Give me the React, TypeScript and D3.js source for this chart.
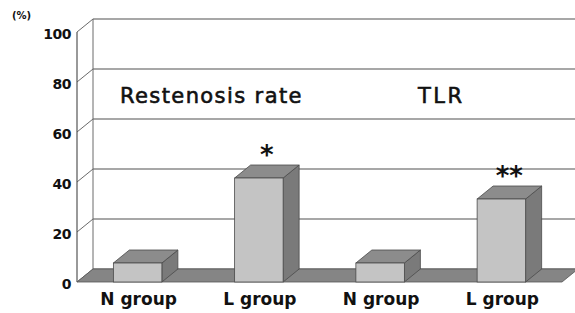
import React from 'react';
import * as d3 from 'd3';

const categories = ['N group', 'L group', 'N group', 'L group'];
const values = [7.6, 41.6, 7.6, 33.2];
const marks = ['', '*', '', '**'];
const yTicks = [0, 20, 40, 60, 80, 100];
const panelLabels = ['Restenosis rate', 'TLR'];

const W = 575;
const H = 313;
const left = 77;
const right = 562;
const top = 32;
const bottom = 282;
const dx = 16;
const dy = -13;

export default function App() {
  const x = d3.scaleBand<number>()
    .domain(categories.map((_, i) => i))
    .range([left, right])
    .padding(0);
  const y = d3.scaleLinear().domain([0, 100]).range([bottom, top]);
  const barW = x.bandwidth() * 0.4;

  const font = '"DejaVu Sans", Arial, sans-serif';
  const poly = (pts: number[][]) => pts.map(p => p.join(',')).join(' ');

  return (
    <svg width={W} height={H} viewBox={`0 0 ${W} ${H}`}
      style={{ position: 'absolute', left: 0, top: 0, background: '#fff' }}>
      {/* back wall gridlines */}
      {yTicks.map(t => (
        <g key={t}>
          <line x1={left + dx} x2={W} y1={y(t) + dy} y2={y(t) + dy} stroke="#8a8a8a" strokeWidth={1.4} />
          <line x1={left} x2={left + dx} y1={y(t)} y2={y(t) + dy} stroke="#6a6a6a" strokeWidth={1} />
        </g>
      ))}
      <line x1={left + dx} x2={left + dx} y1={y(100) + dy} y2={y(0) + dy} stroke="#6a6a6a" strokeWidth={1} />
      <line x1={left} x2={left} y1={y(100)} y2={y(0)} stroke="#555" strokeWidth={1.2} />

      {/* floor */}
      <polygon
        points={poly([[left, y(0)], [right, y(0)], [right + dx, y(0) + dy], [left + dx, y(0) + dy]])}
        fill="#858585" stroke="#555" strokeWidth={0.8} />

      {/* bars */}
      {values.map((v, i) => {
        const x0 = (x(i) as number) + (x.bandwidth() - barW) / 2;
        const x1 = x0 + barW;
        const yt = y(v);
        const y0 = y(0);
        return (
          <g key={i}>
            <polygon points={poly([[x1, yt], [x1 + dx, yt + dy], [x1 + dx, y0 + dy], [x1, y0]])}
              fill="#7a7a7a" stroke="#4a4a4a" strokeWidth={0.8} />
            <polygon points={poly([[x0, yt], [x0 + dx, yt + dy], [x1 + dx, yt + dy], [x1, yt]])}
              fill="#8c8c8c" stroke="#4a4a4a" strokeWidth={0.8} />
            <rect x={x0} y={yt} width={barW} height={y0 - yt}
              fill="#c4c4c4" stroke="#4a4a4a" strokeWidth={0.8} />
            {marks[i] && (
              <text x={x0 + barW / 2 + dx / 2} y={yt + dy - 1}
                textAnchor="middle" fontFamily={font} fontWeight="bold" fontSize={26} fill="#111">
                {marks[i]}
              </text>
            )}
          </g>
        );
      })}

      {/* y tick labels */}
      {yTicks.map(t => (
        <text key={t} x={left - 6} y={y(t) + 3} textAnchor="end" dominantBaseline="middle"
          fontFamily={font} fontWeight="bold" fontSize={14} letterSpacing={-0.5} fill="#111">
          {t}
        </text>
      ))}
      <text x={12} y={19} fontFamily={font} fontWeight="bold" fontSize={10} fill="#111">(%)</text>

      {/* category labels */}
      {categories.map((c, i) => (
        <text key={i} x={(x(i) as number) + x.bandwidth() / 2 + 1} y={305} textAnchor="middle"
          fontFamily={font} fontWeight="bold" fontSize={17} fill="#111">
          {c}
        </text>
      ))}

      {/* panel labels */}
      <text x={120} y={103} fontFamily={font} fontSize={21} letterSpacing={1.4} fill="#111"
        stroke="#111" strokeWidth={0.6}>{panelLabels[0]}</text>
      <text x={418} y={103} fontFamily={font} fontSize={21} letterSpacing={2.5} fill="#111"
        stroke="#111" strokeWidth={0.6}>{panelLabels[1]}</text>
    </svg>
  );
}
